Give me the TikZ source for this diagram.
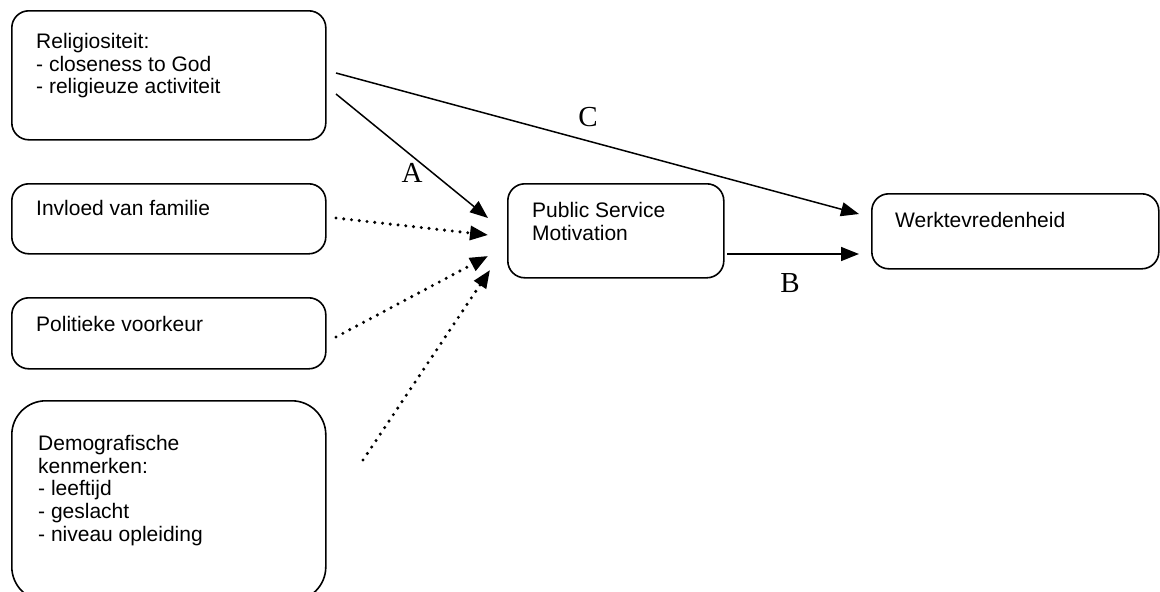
\documentclass[tikz,border=0pt]{standalone}
\usepackage{fontspec}
\setmainfont{Liberation Sans}
\newfontfamily\serifabc{Liberation Serif}
\usetikzlibrary{arrows.meta,calc}
\begin{document}
\begin{tikzpicture}[x=1pt,y=-1pt,
  box/.style={draw, line width=1.6pt, rounded corners=17pt, anchor=north west, inner sep=0pt},
  txt/.style={anchor=north west, inner sep=0pt, align=left, font=\fontsize{21}{22.7}\selectfont},
  lab/.style={font=\serifabc\fontsize{29}{29}\selectfont, inner sep=0pt},
  solidarrow/.style={line width=1.5pt, -{Triangle[length=18pt,width=14pt]}},
  dotarrow/.style={line width=3.4pt, line cap=round, dash pattern=on 0pt off 7.8pt, -{Triangle[length=18pt,width=14pt]}}]
\useasboundingbox (0,0) rectangle (1160,592);

% boxes
\node[box, minimum width=314pt, minimum height=129pt] (rel) at (11,10) {};
\node[box, minimum width=314pt, minimum height=70pt] (fam) at (11,183) {};
\node[box, minimum width=314pt, minimum height=71pt] (pol) at (11,297) {};
\node[box, minimum width=314pt, minimum height=200pt, rounded corners=34pt] (dem) at (11,400) {};
\node[box, minimum width=216pt, minimum height=94pt] (psm) at (507,183) {};
\node[box, minimum width=287pt, minimum height=75pt] (wrk) at (871,193) {};

% texts
\node[txt] (relt) at (36,33) {Religiositeit:\\- closeness to God\\- religieuze activiteit};
\node[txt] (famt) at (36,200) {Invloed van familie};
\node[txt] (polt) at (36,316) {Politieke voorkeur};
\node[txt] (demt) at (38,435) {Demografische\\kenmerken:\\- leeftijd\\- geslacht\\- niveau opleiding};
\node[txt] (psmt) at (532,202) {Public Service\\Motivation};
\node[txt] (wrkt) at (895,212) {Werktevredenheid};

% connector ends
\coordinate (a0) at (336,94);  \coordinate (a1) at (488,218);
\coordinate (c0) at (336,73);  \coordinate (c1) at (859,214);
\coordinate (b0) at (727,254); \coordinate (b1) at (859,254);
\coordinate (f0) at (336,218); \coordinate (f1) at (488,235);
\coordinate (p0) at (336,337); \coordinate (p1) at (488,256);
\coordinate (d0) at (363,460); \coordinate (d1) at (490,270);

\draw[solidarrow] (a0) -- (a1);
\draw[solidarrow] (c0) -- (c1);
\draw[solidarrow] (b0) -- (b1);
\draw[dotarrow] (f0) -- (f1);
\draw[dotarrow] (p0) -- (p1);
\draw[dotarrow] (d0) -- (d1);

% labels
\node[lab] (la) at (412,173) {A};
\node[lab] (lb) at (790,283) {B};
\node[lab] (lc) at (588,117) {C};
\end{tikzpicture}
\end{document}
